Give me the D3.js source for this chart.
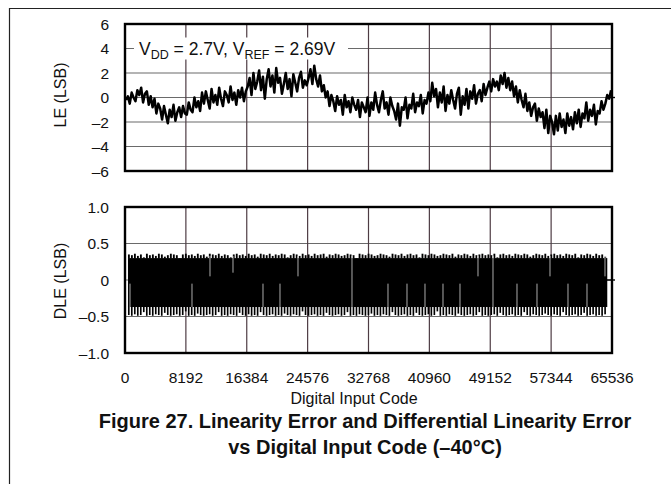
<!DOCTYPE html>
<html>
<head>
<meta charset="utf-8">
<script src="https://cdn.jsdelivr.net/npm/d3@7"></script>
<style>
  body { margin: 0; background: #fff; }
  text { font-family: "Liberation Sans", Arial, sans-serif; fill: #111; }
</style>
</head>
<body>
<script>
// chart data
var codeTicks = [0, 8192, 16384, 24576, 32768, 40960, 49152, 57344, 65536];
var leTicks = [-6, -4, -2, 0, 2, 4, 6];
var dleTicks = [-1.0, -0.5, 0, 0.5, 1.0];

// LE (LSB), one value every 256 codes
var leValues = [
  -0.2,0.1,-0.5,0.4,0.0,-0.3,0.6,0.2,0.8,-0.4,0.3,0.5,-0.6,0.1,-0.8,-0.1,-1.3,-0.5,-0.9,-1.8,-0.7,-1.4,-2.1,-1.0,-1.6,-0.6,-1.9,-1.2,-0.8,-1.6,-0.7,-1.3,
  -1.4,-0.4,-1.0,-1.2,0.0,-0.8,-0.3,-1.1,0.4,-0.5,0.5,-0.2,-0.9,0.7,-0.4,0.2,-0.6,0.8,-0.1,-0.7,0.5,0.2,-0.4,0.9,-0.2,0.4,-0.6,0.6,0.0,0.8,-0.3,0.5,
  0.9,1.6,0.2,2.0,0.7,1.3,2.2,0.6,1.7,-0.1,1.5,2.3,0.9,1.8,0.4,2.4,1.2,1.6,0.3,1.1,2.0,0.7,1.5,0.1,1.9,1.2,0.5,1.6,2.1,0.8,1.4,1.0,
  1.6,2.3,1.1,2.6,1.5,0.9,1.8,0.5,1.0,0.0,0.5,-0.7,0.2,-0.3,-1.1,0.1,-0.6,-0.2,-1.4,0.2,-0.8,-0.3,-1.2,0.0,-0.6,-1.0,-0.2,-1.6,-0.4,-0.8,-1.2,0.0,
  -1.5,-0.4,-1.0,0.4,-0.6,-1.2,-0.2,0.5,-0.9,-0.4,-1.4,0.0,-0.7,-1.1,-1.8,-0.5,-2.3,-0.8,-1.0,0.0,-1.7,-0.6,-0.9,0.3,-1.2,-0.4,-0.7,0.2,-1.3,-0.2,-0.5,0.4,
  -0.3,1.2,0.1,0.7,-0.8,0.4,-0.4,0.9,-1.1,0.2,-0.5,0.6,-0.2,-0.9,0.3,0.8,-1.4,0.1,-0.6,0.7,-0.9,0.5,-0.1,1.0,-0.5,0.3,0.6,-0.3,1.1,0.2,0.8,1.3,
  0.5,1.5,0.9,1.3,0.6,1.8,1.1,2.0,0.8,1.6,0.6,1.3,0.1,0.9,-0.4,0.6,-0.2,-0.8,0.3,-1.1,-0.4,-1.5,-0.8,-0.5,-1.9,-0.9,-1.6,-1.2,-2.5,-1.0,-2.9,-1.5,
  -2.0,-3.0,-1.5,-2.7,-1.3,-2.4,-1.8,-2.9,-1.3,-2.3,-1.6,-2.6,-1.2,-2.1,-1.0,-2.4,-1.3,-1.7,-0.4,-1.9,-1.0,-1.5,-0.6,-2.2,-1.1,-1.3,-0.3,-1.0,-0.5,0.2,-0.1,0.6
];
var leStep = 256;

// DLE (LSB): code range of the trace, solid core, peak highs and lows per bin
var dleStart = 400, dleEnd = 64900;
var dleCore = [0.30, -0.37];
var dleHi = [
  .35,.34,.36,.33,.35,.31,.36,.34,.35,.33,.36,.35,.32,.34,.36,.35,.34,.30,.35,.36,
  .34,.35,.33,.36,.34,.35,.32,.36,.35,.34,.36,.33,.35,.34,.31,.35,.36,.34,.35,.33,
  .36,.34,.35,.32,.36,.35,.34,.36,.33,.35,.34,.36,.35,.31,.34,.36,.35,.33,.36,.34,
  .35,.33,.36,.34,.35,.36,.32,.35,.34,.36,.35,.33,.34,.36,.35,.34,.30,.36,.35,.34,
  .36,.35,.33,.34,.36,.35,.34,.32,.36,.35,.34,.36,.33,.35,.36,.34,.35,.31,.36,.35,
  .34,.36,.35,.33,.34,.36,.35,.34,.36,.32,.35,.34,.36,.35,.33,.36,.34,.35,.36,.34,
  .35,.34,.36,.31,.35,.36,.34,.35,.33,.36,.35,.34,.36,.35,.32,.34,.36,.35,.34,.36,
  .33,.35,.36,.34,.35,.33,.36,.35,.34,.36,.31,.35,.34,.36,.35,.33,.36,.34,.35,.32
];
var dleLo = [
  -.48,-.49,-.47,-.49,-.48,-.44,-.49,-.48,-.49,-.47,-.48,-.49,-.45,-.48,-.49,-.48,-.47,-.49,-.48,-.43,
  -.49,-.48,-.49,-.46,-.48,-.49,-.48,-.47,-.49,-.48,-.44,-.49,-.48,-.49,-.47,-.48,-.49,-.45,-.48,-.49,
  -.47,-.49,-.48,-.49,-.44,-.48,-.49,-.48,-.47,-.49,-.48,-.49,-.46,-.48,-.49,-.47,-.48,-.49,-.43,-.48,
  -.49,-.48,-.47,-.49,-.48,-.49,-.45,-.48,-.49,-.48,-.47,-.49,-.48,-.44,-.49,-.48,-.49,-.47,-.48,-.49,
  -.48,-.46,-.49,-.48,-.49,-.47,-.48,-.49,-.44,-.48,-.49,-.48,-.47,-.49,-.48,-.49,-.45,-.48,-.49,-.48,
  -.47,-.49,-.48,-.43,-.49,-.48,-.49,-.47,-.48,-.49,-.46,-.48,-.49,-.48,-.47,-.49,-.48,-.44,-.49,-.48,
  -.49,-.48,-.47,-.49,-.45,-.48,-.49,-.48,-.47,-.49,-.48,-.49,-.44,-.48,-.49,-.47,-.48,-.49,-.48,-.46,
  -.48,-.49,-.47,-.48,-.49,-.44,-.48,-.49,-.48,-.47,-.49,-.48,-.45,-.49,-.48,-.47,-.49,-.48,-.49,-.47
];
// thin white gaps in the DLE band: [code, from, to]
var dleGaps = [
  [673,-0.05,-0.37],[9016,-0.05,-0.37],[11438,0.33,0.05],[14533,0.33,0.1],[18570,-0.05,-0.37],
  [20858,-0.05,-0.37],[23280,0.33,0.05],[30547,0.33,-0.37],[35391,-0.05,-0.37],[37948,-0.05,-0.37],
  [40370,-0.05,-0.37],[42793,-0.05,-0.37],[45080,-0.05,-0.37],[47503,0.33,0.05],[49521,0.33,-0.37],
  [52751,-0.05,-0.37],[55442,-0.05,-0.37],[57192,0.33,0.05],[59614,-0.05,-0.37],[62171,-0.05,-0.37],
  [64593,0.33,0.05]
];

var width = 671, height = 484;

var svg = d3.select("body").append("svg")
    .attr("width", width)
    .attr("height", height);

svg.append("rect").attr("width", width).attr("height", height).style("fill", "#fff");

// page frame lines (top and left)
svg.append("path")
    .attr("d", "M9.5,484 V8.5 H671")
    .style("fill", "none").style("stroke", "#222").style("stroke-width", 1.2);

var x = d3.scaleLinear().domain([0, 65536]).range([125, 612]);
var yLE = d3.scaleLinear().domain([-6, 6]).range([171, 24]);
var yDLE = d3.scaleLinear().domain([-1, 1]).range([353, 207]);

function fmt(d, digits){
    var s = Math.abs(d).toFixed(digits);
    if (d === 0) return "0";
    return d < 0 ? "\u2013" + s : s;
}

function panel(y, ticks, digits, title, titleY){
    var g = svg.append("g");
    var x0 = x.range()[0], x1 = x.range()[1];
    var y0 = y.range()[1], y1 = y.range()[0];

    //horizontal grid
    g.selectAll(".hgrid")
        .data(ticks.slice(1, -1))
        .enter().append("line")
        .attr("x1", x0).attr("x2", x1)
        .attr("y1", function(d){ return y(d); })
        .attr("y2", function(d){ return y(d); })
        .style("stroke", "#6a6a6a").style("stroke-width", 1.2);

    //vertical grid
    g.selectAll(".vgrid")
        .data(codeTicks.slice(1, -1))
        .enter().append("line")
        .attr("x1", function(d){ return x(d); })
        .attr("x2", function(d){ return x(d); })
        .attr("y1", y0).attr("y2", y1)
        .style("stroke", "#4e3c44").style("stroke-width", 1.2);

    //y tick labels
    g.selectAll(".ylab")
        .data(ticks)
        .enter().append("text")
        .attr("x", 109)
        .attr("y", function(d){ return y(d) + 5.5; })
        .attr("text-anchor", "end")
        .style("font-size", "15.5px")
        .text(function(d){ return fmt(d, digits); });

    //axis title
    g.append("text")
        .attr("transform", "translate(66," + titleY + ") rotate(-90)")
        .attr("text-anchor", "middle")
        .style("font-size", "16px")
        .text(title);

    return g;
}

var gLE = panel(yLE, leTicks, 0, "LE (LSB)", 95);
var gDLE = panel(yDLE, dleTicks, 1, "DLE (LSB)", 281);

// VDD / VREF note sits on the +4 gridline
var note = gLE.append("g");
note.append("rect")
    .attr("x", 134).attr("y", yLE(4) - 11)
    .attr("width", 214).attr("height", 22)
    .style("fill", "#fff");
var noteText = note.append("text")
    .attr("x", 139).attr("y", yLE(4) + 6)
    .style("font-size", "17.5px");
noteText.append("tspan").text("V");
noteText.append("tspan").attr("dy", 4).style("font-size", "12.5px").text("DD");
noteText.append("tspan").attr("dy", -4).text(" = 2.7V, V");
noteText.append("tspan").attr("dy", 4).style("font-size", "12.5px").text("REF");
noteText.append("tspan").attr("dy", -4).text(" = 2.69V");

// LE trace
var leLine = d3.line()
    .x(function(d, i){ return x(i * leStep + 128); })
    .y(function(d){ return yLE(d); });

gLE.append("path")
    .datum(leValues)
    .attr("d", leLine)
    .style("fill", "none")
    .style("stroke", "#000")
    .style("stroke-width", 2.5)
    .style("stroke-linejoin", "round");

// DLE band
var binW = (dleEnd - dleStart) / dleHi.length;
gDLE.append("rect")
    .attr("x", x(dleStart))
    .attr("width", x(dleEnd) - x(dleStart))
    .attr("y", yDLE(dleCore[0]))
    .attr("height", yDLE(dleCore[1]) - yDLE(dleCore[0]))
    .style("fill", "#000");

gDLE.selectAll(".hiTooth")
    .data(dleHi)
    .enter().append("rect")
    .attr("x", function(d, i){ return x(dleStart + i * binW); })
    .attr("width", function(){ return (x(binW) - x(0)) * 0.62; })
    .attr("y", function(d){ return yDLE(d); })
    .attr("height", function(d){ return yDLE(dleCore[0]) - yDLE(d) + 0.5; })
    .style("fill", "#000");

gDLE.selectAll(".loTooth")
    .data(dleLo)
    .enter().append("rect")
    .attr("x", function(d, i){ return x(dleStart + i * binW); })
    .attr("width", function(){ return (x(binW) - x(0)) * 0.55; })
    .attr("y", yDLE(dleCore[1]) - 0.5)
    .attr("height", function(d){ return yDLE(d) - yDLE(dleCore[1]) + 0.5; })
    .style("fill", "#000");

gDLE.selectAll(".gap")
    .data(dleGaps)
    .enter().append("line")
    .attr("x1", function(d){ return x(d[0]); })
    .attr("x2", function(d){ return x(d[0]); })
    .attr("y1", function(d){ return yDLE(d[1]); })
    .attr("y2", function(d){ return yDLE(d[2]); })
    .style("stroke", "#fff").style("stroke-width", 0.9).style("opacity", 0.75);

// frames and the small right-hand zero ticks
[[yLE, 0], [yDLE, 0]].forEach(function(p){
    var y = p[0];
    svg.append("rect")
        .attr("x", x.range()[0]).attr("y", y.range()[1])
        .attr("width", x.range()[1] - x.range()[0])
        .attr("height", y.range()[0] - y.range()[1])
        .style("fill", "none").style("stroke", "#000").style("stroke-width", 2.4);
    svg.append("line")
        .attr("x1", x(65536) - 6).attr("x2", x(65536) + 3)
        .attr("y1", y(p[1])).attr("y2", y(p[1]))
        .style("stroke", "#000").style("stroke-width", 1.4);
});

// x tick labels
svg.selectAll(".xlab")
    .data(codeTicks)
    .enter().append("text")
    .attr("x", function(d){ return x(d); })
    .attr("y", 383)
    .attr("text-anchor", "middle")
    .style("font-size", "15.5px")
    .text(function(d){ return d; });

svg.append("text")
    .attr("x", 354).attr("y", 404)
    .attr("text-anchor", "middle")
    .style("font-size", "16px")
    .text("Digital Input Code");

// figure caption
var caption = ["Figure 27. Linearity Error and Differential Linearity Error",
               "vs Digital Input Code (\u201340\u00B0C)"];
svg.selectAll(".cap")
    .data(caption)
    .enter().append("text")
    .attr("x", 365)
    .attr("y", function(d, i){ return 428 + i * 26; })
    .attr("text-anchor", "middle")
    .style("font-size", "20px")
    .style("font-weight", "bold")
    .text(function(d){ return d; });
</script>
</body>
</html>
